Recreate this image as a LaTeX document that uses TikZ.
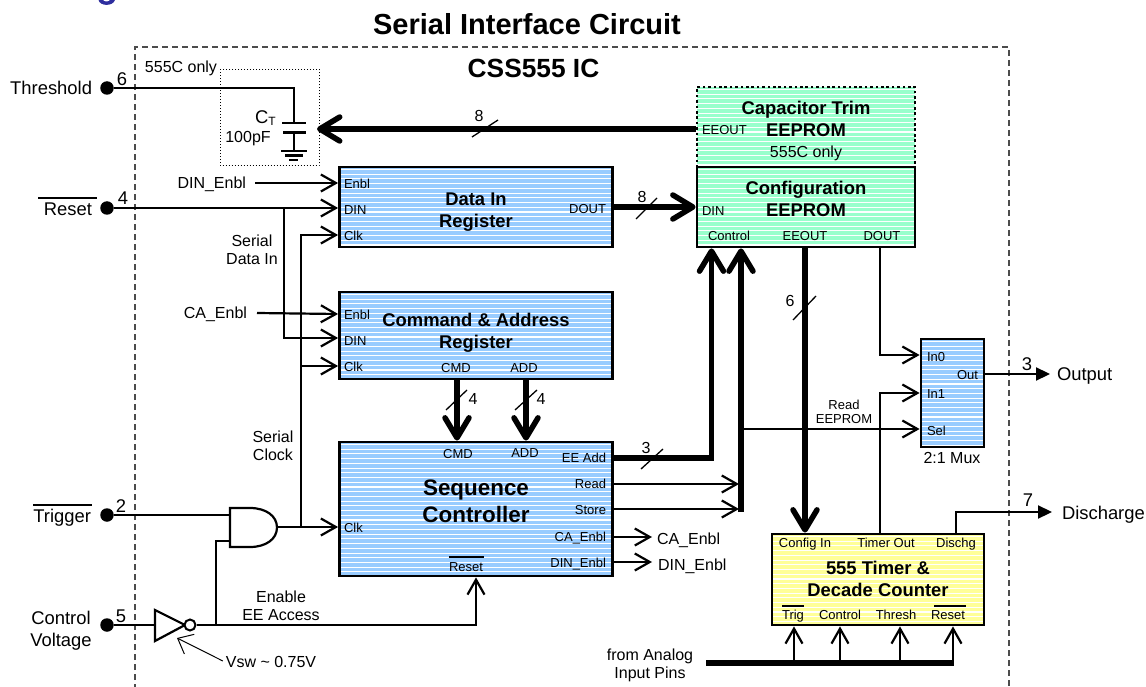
\documentclass[tikz,border=0pt]{standalone}
\usepackage{fontspec}
\setmainfont{Liberation Sans}
\usetikzlibrary{arrows.meta,calc}
\newcommand{\fs}[1]{\fontsize{#1}{#1}\selectfont}
\definecolor{bluefill}{HTML}{99CCFF}
\definecolor{greenfill}{HTML}{99FFCC}
\definecolor{yellowfill}{HTML}{FFFF99}
\tikzset{
  x=1pt,y=-1pt,
  stripes/.style={path picture={
    \foreach \i in {0,...,30}{
      \draw[solid,white,line width=1.1pt] ($(path picture bounding box.north west)+(0,2.5+4.72*\i)$) -- ++(400,0);
    }}},
  regbox/.style={draw=black,line width=2.8pt,inner sep=0pt,stripes},
  txt/.style={inner sep=0pt,outer sep=0pt,text depth=0pt,align=center,font=\fs{16}},
  big/.style={txt,font=\fs{18.4}},
  small/.style={txt,font=\fs{13}},
  ttl/.style={txt,font=\bfseries\fs{18.4}},
  wire/.style={line width=2.2pt,line cap=butt},
  awire/.style={wire,-{Straight Barb[length=15pt,width=17pt,line join=miter]}},
  bus/.style={line width=5.5pt},
  abus/.style={bus,-{Straight Barb[length=20pt,width=24pt,round]}},
  owire/.style={wire,-{Triangle[length=14pt,width=13pt]}},
  slashmark/.style={line width=1.3pt},
  pindot/.style={circle,fill=black,minimum size=13.5pt,inner sep=0pt},
}
\begin{document}
\begin{tikzpicture}
\useasboundingbox (0,0) rectangle (1146,687);
% cut heading fragment
\fill[color={rgb,255:red,46;green,46;blue,158}] (98.5,0) .. controls (100,6.5) and (113,6.5) .. (115,0) -- (110,0) .. controls (109,2) and (104,2) .. (103,0) -- cycle;
% frame
\draw[dash pattern=on 6pt off 4pt,line width=1.2pt,color=black!70] (135,690) -- (135,47) -- (1009,47) -- (1009,690);
\node[txt,font=\bfseries\fs{29}] (title) at (527,24) {Serial Interface Circuit};
\node[txt,font=\bfseries\fs{26.3}] (ic) at (533.5,68) {CSS555 IC};
% boxes
\node[regbox,fill=greenfill,dash pattern=on 2.7pt off 2.7pt,minimum width=218pt,minimum height=80pt] (trim) at (806,127) {};
\node[regbox,fill=greenfill,minimum width=218pt,minimum height=80pt] (cfg) at (806,207) {};
\node[regbox,fill=bluefill,minimum width=273pt,minimum height=80pt] (din) at (476,207) {};
\node[regbox,fill=bluefill,minimum width=273pt,minimum height=87pt] (ca) at (476,335.5) {};
\node[regbox,fill=bluefill,minimum width=273pt,minimum height=134pt] (seq) at (476,509) {};
\node[regbox,fill=bluefill,minimum width=63pt,minimum height=108pt] (mux) at (952.5,393) {};
\node[regbox,fill=yellowfill,minimum width=212pt,minimum height=91pt] (tmr) at (878,579.5) {};
% box titles
\node[ttl] (t1) at (806,108) {Capacitor Trim};
\node[ttl] (t2) at (806,130) {EEPROM};
\node[txt] (t3) at (806,152) {555C only};
\node[ttl] (t4) at (806,188) {Configuration};
\node[ttl] (t5) at (806,210) {EEPROM};
\node[ttl] (t6) at (476,199) {Data In};
\node[ttl] (t7) at (476,221) {Register};
\node[ttl] (t8) at (476,320) {Command \& Address};
\node[ttl] (t9) at (476,342) {Register};
\node[txt,font=\bfseries\fs{22.4}] (t10) at (476,488) {Sequence};
\node[txt,font=\bfseries\fs{22.4}] (t11) at (476,514) {Controller};
\node[ttl] (t12) at (878,568) {555 Timer \&};
\node[ttl] (t13) at (878,590) {Decade Counter};
% port labels
\node[small,anchor=west] (a1) at (344,184) {Enbl};
\node[small,anchor=west] (a2) at (344,210) {DIN};
\node[small,anchor=west] (a3) at (344,236) {Clk};
\node[small,anchor=east] (a4) at (606,209) {DOUT};
\node[small,anchor=west] (b1) at (344,315) {Enbl};
\node[small,anchor=west] (b2) at (344,341) {DIN};
\node[small,anchor=west] (b3) at (344,367) {Clk};
\node[small] (b4) at (456,368) {CMD};
\node[small] (b5) at (524,368) {ADD};
\node[small] (c1) at (458,454) {CMD};
\node[small] (c2) at (525,453) {ADD};
\node[small,anchor=west] (c3) at (344,528) {Clk};
\node[small,anchor=east] (c4) at (606,458) {EE Add};
\node[small,anchor=east] (c5) at (606,484) {Read};
\node[small,anchor=east] (c6) at (606,510) {Store};
\node[small,anchor=east] (c7) at (606,537) {CA\_Enbl};
\node[small,anchor=east] (c8) at (606,563) {DIN\_Enbl};
\node[small] (c9) at (466,567) {Reset};
\node[small,anchor=west] (d1) at (702,130) {EEOUT};
\node[small,anchor=west] (d2) at (702,211) {DIN};
\node[small] (d3) at (729,236) {Control};
\node[small] (d4) at (805,236) {EEOUT};
\node[small] (d5) at (882,236) {DOUT};
\node[small,anchor=west] (e1) at (927,357) {In0};
\node[small,anchor=east] (e2) at (978,375) {Out};
\node[small,anchor=west] (e3) at (927,394) {In1};
\node[small,anchor=west] (e4) at (927,431) {Sel};
\node[txt] (e5) at (952,458) {2:1 Mux};
\node[small] (f1) at (805,543) {Config In};
\node[small] (f2) at (886,543) {Timer Out};
\node[small] (f3) at (956,543) {Dischg};
\node[small] (f4) at (793,615) {Trig};
\node[small] (f5) at (840,615) {Control};
\node[small] (f6) at (896,615) {Thresh};
\node[small] (f7) at (948,615) {Reset};
% overbars
\draw[line width=1.2pt] (449,557) -- (484,557);
\draw[line width=1.2pt] (782,606) -- (804,606);
\draw[line width=1.2pt] (934,606) -- (966,606);
% pins
\node[pindot] (p6) at (107,88) {};
\node[pindot] (p4) at (107,208) {};
\node[pindot] (p2) at (107,515) {};
\node[pindot] (p5) at (107,625) {};
\node[big,anchor=east] (l6) at (92,88) {Threshold};
\node[big,anchor=east] (l4) at (92,209) {Reset};
\node[big,anchor=east] (l2) at (91,516) {Trigger};
\node[big] (l5) at (61,629) {Control\\[3pt]Voltage};
\draw[line width=1.2pt] (38,198) -- (97,198);
\draw[line width=1.2pt] (33,505) -- (92,505);
\node[big] (n6) at (122,79) {6};
\node[big] (n4) at (123,198) {4};
\node[big] (n2) at (121,506) {2};
\node[big] (n5) at (121,616) {5};
\node[big] (n3) at (1027,364) {3};
\node[big] (n7) at (1028,500) {7};
\node[big,anchor=west] (out) at (1057,374) {Output};
\node[big,anchor=west] (dis) at (1062,513) {Discharge};
% capacitor
\draw[dotted,line width=1pt] (220,69.5) rectangle (319,166);
\node[txt] (only) at (181,67) {555C only};
\node[big,anchor=west] (ct) at (255,117) {C\raisebox{-2pt}{\fs{12}T}};
\node[txt] (pf) at (248,137) {100pF};
\coordinate (capA) at (294,123);
\coordinate (capB) at (294,132.5);
\coordinate (gnd) at (294,151);
\draw[wire] (p6) -| (capA);
\draw[line width=2.4pt] (282,123) -- (306,123);
\draw[line width=2.4pt] (283,132.5) -- (306,132.5);
\draw[wire] (capB) -- (gnd);
\draw[wire] (281,151) -- (307,151);
\draw[wire] (285,155.5) -- (303,155.5);
\draw[wire] (289,160) -- (298,160);
% control labels
\node[txt,anchor=east] (dinen) at (246,183) {DIN\_Enbl};
\node[txt,anchor=east] (caen) at (247,313) {CA\_Enbl};
\node[txt] (sdi) at (252,250) {Serial\\[2pt]Data In};
\node[txt] (sck) at (273,446) {Serial\\[2pt]Clock};
\node[txt] (ena) at (281,606) {Enable\\[2pt]EE Access};
\node[txt] (vsw) at (271,662) {Vsw \char`\~{} 0.75V};
\node[small] (rd) at (844,412) {Read\\[1pt]EEPROM};
\node[txt,anchor=west] (oca) at (657,539) {CA\_Enbl};
\node[txt,anchor=west] (odin) at (658,565) {DIN\_Enbl};
\node[txt] (ana) at (650,663.5) {from Analog\\[2pt]Input Pins};
% junction coordinates
\coordinate (j1) at (284,208);
\coordinate (j2) at (301,527);
\coordinate (j3) at (216,625);
\coordinate (j4) at (741,429);
% data wires
\draw[awire] (dinen.east -| 255,183) -- (din.west |- 0,183);
\draw[awire] (p4) -- (din.west |- 0,208);
\draw[awire] (j1) -- (284,338) -- (ca.west |- 0,338);
\draw[awire] (caen.east -| 257,314) -- (ca.west |- 0,314);
\draw[awire] (j2) -- (301,235) -- (din.west |- 0,235);
\draw[awire] (301,366) -- (ca.west |- 0,366);
% gate
\coordinate (andA) at (230,515);
\coordinate (andB) at (230,541);
\coordinate (andO) at (277,527);
\draw[wire] (p2) -- (andA);
\draw[wire] (j3) |- (andB);
\draw[awire] (andO) -- (seq.west |- andO);
\draw[line width=2.2pt,line join=miter] (230,508) -- (250,508) .. controls (266,508) and (277,516) .. (277,527.5) .. controls (277,539) and (266,547) .. (250,547) -- (230,547) -- cycle;
% inverter
\coordinate (invA) at (155,625);
\draw[wire] (p5) -- (invA);
\draw[line width=2.2pt,line join=miter] (155,610) -- (185,625) -- (155,641) -- cycle;
\node[circle,draw=black,line width=2pt,fill=white,minimum size=11pt,inner sep=0pt] (bub) at (190,625) {};
\draw[awire] (bub.east) -- (seq.south |- bub.east) -- (seq.south);
\draw[line width=1pt,-{Straight Barb[length=13pt,width=22pt]}] (vsw.west |- 0,661) ++(-3,0) -- (177,638);
% thick busses
\draw[abus] (trim.west |- 0,129) -- (317,129);
\draw[slashmark] (472,137) -- (498,120);
\node[txt] (w8a) at (479,116) {8};
\draw[abus] (din.east |- 0,207) -- (cfg.west |- 0,207);
\draw[slashmark] (636,219) -- (657,198);
\node[txt] (w8b) at (642,197) {8};
\draw[abus] (ca.south -| 457,0) -- (seq.north -| 457,0);
\draw[slashmark] (446,410) -- (467,390);
\node[txt] (w4a) at (473,399) {4};
\draw[abus] (ca.south -| 526,0) -- (seq.north -| 526,0);
\draw[slashmark] (515,410) -- (537,390);
\node[txt] (w4b) at (541,399) {4};
\draw[abus] (seq.east |- 0,458) -- (711.5,458) -- (cfg.south -| 711.5,0);
\draw[slashmark] (641,469) -- (663,449);
\node[txt] (w3) at (646,448) {3};
\draw[abus] (741,512) -- (cfg.south -| 741,0);
\draw[awire] (seq.east |- 0,484) -- (739,484);
\draw[awire] (seq.east |- 0,509) -- (739,509);
\draw[awire] (seq.east |- 0,537) -- (652,537);
\draw[awire] (seq.east |- 0,562) -- (652,562);
% eeprom out
\draw[abus] (cfg.south -| 805,0) -- (tmr.north -| 805,0);
\draw[slashmark] (793,320) -- (816,296);
\node[txt] (w6) at (790,301) {6};
% mux
\draw[awire] (cfg.south -| 880,0) -- (880,355) -- (mux.west |- 0,355);
\draw[awire] (tmr.north -| 880,0) -- (880,393) -- (mux.west |- 0,393);
\draw[awire] (j4) -- (mux.west |- 0,429);
\draw[owire] (mux.east |- 0,374) -- (1050,374);
\draw[owire] (tmr.north -| 956,0) -- (956,512) -- (1052,512);
% analog
\coordinate (anaS) at (706,663);
\coordinate (anaE) at (954,663);
\draw[bus] (anaS) -- (anaE);
\foreach \xx in {794,840,900,953}{
  \draw[awire] (\xx,664) -- (tmr.south -| \xx,0);
}
\end{tikzpicture}
\end{document}
